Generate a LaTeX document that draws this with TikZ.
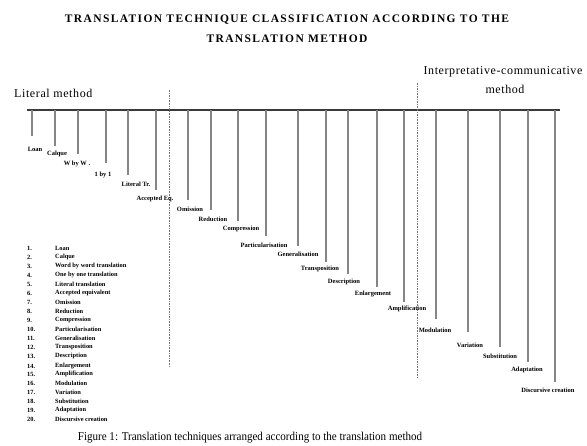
\documentclass[tikz,border=0pt]{standalone}
\usepackage{fontspec}
\setmainfont{Liberation Serif}
\newfontfamily\titlefont[LetterSpace=12]{Liberation Serif}
\newfontfamily\headfont[LetterSpace=5]{Liberation Serif}
\definecolor{axisgray}{HTML}{3A3A3A}
\definecolor{tickgray}{HTML}{858585}
\definecolor{divblue}{HTML}{6A6AF0}
\begin{document}
\begin{tikzpicture}[x=1pt,y=-1pt,
  axisline/.style={draw=axisgray,line width=1.6pt},
  tickline/.style={draw=tickgray,line width=1.3pt},
  divider/.style={draw=divblue,line width=1pt,dash pattern=on 1.6pt off 1pt},
  ticklabel/.style={inner sep=0pt,font=\fontsize{6.5}{7}\selectfont\bfseries},
  listtext/.style={inner sep=0pt,anchor=west,font=\fontsize{6.4}{7}\selectfont\bfseries},
  titletext/.style={inner sep=0pt,font=\titlefont\fontsize{11.5}{13}\selectfont\bfseries},
  headtext/.style={inner sep=0pt,font=\headfont\fontsize{12}{14}\selectfont}]
\useasboundingbox (0,0) rectangle (587,445);
% title
\node[titletext] (title1) at (287,20) {TRANSLATION TECHNIQUE CLASSIFICATION ACCORDING TO THE};
\node[titletext] (title2) at (287,39) {TRANSLATION METHOD};
% method headings
\node[headtext,anchor=west] (lit) at (14,93) {Literal method};
\node[headtext] (interp1) at (503,72) {Interpretative-communicative};
\node[headtext] (interp2) at (505,89) {method};
% axis
\coordinate (axL) at (27,110);
\coordinate (axR) at (560,110);
\draw[axisline] (axL) -- (axR);
% dividers
\coordinate (d1t) at (169,90);
\coordinate (d1b) at (169,366);
\coordinate (d2t) at (417,83);
\coordinate (d2b) at (417,377);
\draw[divider] (d1t) -- (d1b);
\draw[divider] (d2t) -- (d2b);
% ticks and labels
\foreach \x/\b/\cx/\ly/\t [count=\i] in {
  32/136/35/149/Loan,
  55/146/57/154/Calque,
  78/154/77/164/W by W .,
  106/163/103/175/1 by 1,
  128/175/136/184/Literal Tr.,
  156/190/155/199/Accepted Eq.,
  188/200/190/209/Omission,
  211/210/213/219/Reduction,
  238/221/241/229/Compression,
  266/236/264/245/Particularisation,
  298/246/298/254/Generalisation,
  326/262/320/269/Transposition,
  348/274/344/282/Description,
  377/287/373/294/Enlargement,
  404/302/407/309/Amplification,
  436/319/435/330/Modulation,
  468/332/470/345/Variation,
  500/347/500/356/Substitution,
  528/362/527/370/Adaptation,
  555/382/548/390/Discursive creation}{
  \coordinate (t\i) at (\x,110);
  \coordinate (b\i) at (\x,\b);
  \draw[tickline] (t\i) -- (b\i);
  \node[ticklabel] (l\i) at (\cx,\ly) {\t};
}
% numbered list
\foreach \y/\t [count=\i] in {
  248/Loan, 257/Calque, 266/Word by word translation, 275/One by one translation,
  284/Literal translation, 293/Accepted equivalent, 302/Omission, 311/Reduction,
  320/Compression, 329/Particularisation, 338/Generalisation, 347/Transposition,
  356/Description, 366/Enlargement, 374/Amplification, 383/Modulation,
  392/Variation, 401/Substitution, 410/Adaptation, 419/Discursive creation}{
  \node[listtext] (n\i) at (27,\y) {\i.};
  \node[listtext] (e\i) at (55,\y) {\t};
}
% caption
\node[inner sep=0pt,font=\fontsize{12}{14}\selectfont] (cap) at (250,438) {\scalebox{0.92}[1]{Figure 1: Translation techniques arranged according to the translation method}};
\end{tikzpicture}
\end{document}
